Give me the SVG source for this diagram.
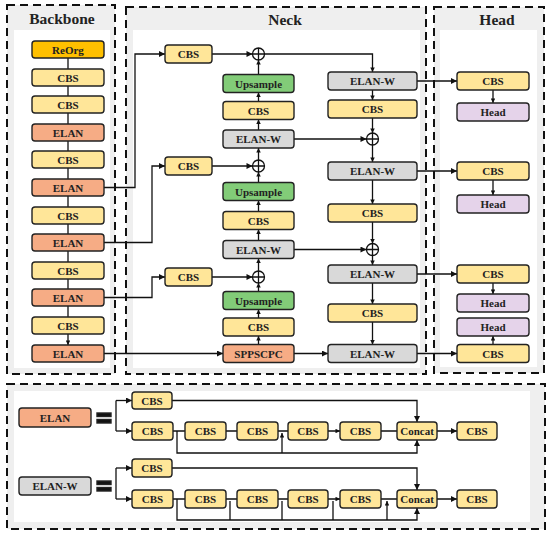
<svg xmlns="http://www.w3.org/2000/svg" width="550" height="535" viewBox="0 0 550 535">
<defs>
<style>
text{font-family:"Liberation Serif","Times New Roman",serif;font-weight:bold;fill:#222;text-anchor:middle}
.t{font-size:11px}
.ttl{font-size:15.5px}
.b rect{stroke:#222;stroke-width:1.4}
.cbs{fill:#ffe699}.elan{fill:#f6ac85}.elw{fill:#d9d9d9}.up{fill:#82cc78}.hd{fill:#e5d3ea}.ro{fill:#ffc000}
.pan{fill:#efefef;stroke:#111;stroke-width:2;stroke-dasharray:8 5}
.in{fill:#fff}
.c path,.c line{fill:none;stroke:#111;stroke-width:1.3}
.ox circle{fill:#fff;stroke:#111;stroke-width:1.3}
.ox path{stroke:#111;stroke-width:1.3}
</style>
<marker id="a" viewBox="0 0 10 10" refX="10" refY="5" markerWidth="7" markerHeight="6" orient="auto" markerUnits="userSpaceOnUse"><path d="M0,0L10,5L0,10z" fill="#111"/></marker>
<marker id="s" viewBox="0 0 10 10" refX="10" refY="5" markerWidth="5" markerHeight="4.5" orient="auto" markerUnits="userSpaceOnUse"><path d="M0,0L10,5L0,10z" fill="#111"/></marker>
</defs>
<rect width="550" height="535" fill="#fff"/>
<g id="panels">
<rect class="pan" x="7" y="5" width="108" height="369"/>
<rect class="in" x="14" y="30" width="96" height="338"/>
<text class="ttl" x="62" y="24">Backbone</text>
<rect class="pan" x="126" y="7" width="300" height="367"/>
<rect class="in" x="133" y="30" width="287" height="338"/>
<text class="ttl" x="285" y="25">Neck</text>
<rect class="pan" x="434" y="7" width="110" height="366"/>
<rect class="in" x="440" y="30" width="97" height="337"/>
<text class="ttl" x="497" y="25">Head</text>
<rect class="pan" x="7" y="384" width="538" height="145"/>
<rect class="in" x="14" y="391" width="516" height="131"/>
</g>
<g id="connectors" class="c">
<path d="M68,58V69M68,86V96M68,113V124M68,141V151M68,168V179M68,196V207M68,224V234M68,251V262M68,279V289M68,306V317M68,334V345" marker-end="url(#s)"/>
<path d="M104,187.5H135V54H165" marker-end="url(#a)"/>
<path d="M104,242.5H152V166H165" marker-end="url(#a)"/>
<path d="M104,297.5H152V277H165" marker-end="url(#a)"/>
<path d="M104,353.5H223" marker-end="url(#a)"/>
<path d="M212,54H252.5" marker-end="url(#a)"/>
<path d="M212,166H252.5" marker-end="url(#a)"/>
<path d="M212,277H252.5" marker-end="url(#a)"/>
<path d="M258.5,344.5V336" marker-end="url(#s)"/>
<path d="M258.5,318V309.5" marker-end="url(#s)"/>
<path d="M258.5,291.5V283" marker-end="url(#s)"/>
<path d="M258.5,271V258.5" marker-end="url(#s)"/>
<path d="M258.5,240.5V229.5" marker-end="url(#s)"/>
<path d="M258.5,211.5V200.5" marker-end="url(#s)"/>
<path d="M258.5,182.5V172" marker-end="url(#s)"/>
<path d="M258.5,160V148" marker-end="url(#s)"/>
<path d="M258.5,130V119.5" marker-end="url(#s)"/>
<path d="M258.5,101.5V92.5" marker-end="url(#s)"/>
<path d="M258.5,74.5V60" marker-end="url(#s)"/>
<path d="M264.5,54H372.5V72" marker-end="url(#s)"/>
<path d="M372.5,90V100" marker-end="url(#s)"/>
<path d="M372.5,118V133" marker-end="url(#s)"/>
<path d="M372.5,145V162" marker-end="url(#s)"/>
<path d="M372.5,180V204" marker-end="url(#s)"/>
<path d="M372.5,222V243.5" marker-end="url(#s)"/>
<path d="M372.5,255.5V265" marker-end="url(#s)"/>
<path d="M372.5,283V304" marker-end="url(#s)"/>
<path d="M372.5,322V344.5" marker-end="url(#s)"/>
<path d="M294,139H366.5" marker-end="url(#a)"/>
<path d="M294,249.5H366.5" marker-end="url(#a)"/>
<path d="M294,353.5H328" marker-end="url(#a)"/>
<path d="M417,81H457" marker-end="url(#a)"/>
<path d="M417,171H457" marker-end="url(#a)"/>
<path d="M417,274H457" marker-end="url(#a)"/>
<path d="M417,353.5H457" marker-end="url(#a)"/>
<path d="M493,90V103" marker-end="url(#s)"/>
<path d="M493,180V195" marker-end="url(#s)"/>
<path d="M493,283V294" marker-end="url(#s)"/>
<path d="M493,344.5V336" marker-end="url(#s)"/>
<!-- ELAN legend -->
<path d="M116,400.5V431"/>
<path d="M116,400.5H132" marker-end="url(#a)"/>
<path d="M116,431H132" marker-end="url(#a)"/>
<path d="M172,400.5H417V422" marker-end="url(#a)"/>
<path d="M173,431H185M226,431H237M278,431H288M328,431H340" marker-end="url(#s)"/>
<path d="M381,431H397M437,431H457" marker-end="url(#a)"/>
<path d="M177,431V453H417V440" marker-end="url(#a)"/>
<path d="M282,453V433" marker-end="url(#s)"/>
<!-- ELAN-W legend -->
<path d="M116,468V499"/>
<path d="M116,468H132" marker-end="url(#a)"/>
<path d="M116,499H132" marker-end="url(#a)"/>
<path d="M172,468H417V490" marker-end="url(#a)"/>
<path d="M173,499H185M226,499H237M278,499H288M328,499H340" marker-end="url(#s)"/>
<path d="M381,499H397M437,499H457" marker-end="url(#a)"/>
<path d="M177,499V520H417V508" marker-end="url(#a)"/>
<path d="M230,520V501M282,520V501M333,520V501M387,520V501" marker-end="url(#s)"/>
</g>
<g id="plus" class="ox">
<g id="add1"><circle cx="258.5" cy="54" r="6"/><path d="M252.5,54H264.5M258.5,48V60"/></g>
<g id="add2"><circle cx="258.5" cy="166" r="6"/><path d="M252.5,166H264.5M258.5,160V172"/></g>
<g id="add3"><circle cx="258.5" cy="277" r="6"/><path d="M252.5,277H264.5M258.5,271V283"/></g>
<g id="add4"><circle cx="372.5" cy="139" r="6"/><path d="M366.5,139H378.5M372.5,133V145"/></g>
<g id="add5"><circle cx="372.5" cy="249.5" r="6"/><path d="M366.5,249.5H378.5M372.5,243.5V255.5"/></g>
</g>
<g id="backbone" class="b">
<g id="bb1"><rect class="ro" x="32" y="41" width="72" height="17" rx="3"/><text class="t" x="68" y="53.5">ReOrg</text></g>
<g id="bb2"><rect class="cbs" x="32" y="69" width="72" height="17" rx="3"/><text class="t" x="68" y="81.5">CBS</text></g>
<g id="bb3"><rect class="cbs" x="32" y="96" width="72" height="17" rx="3"/><text class="t" x="68" y="108.5">CBS</text></g>
<g id="bb4"><rect class="elan" x="32" y="124" width="72" height="17" rx="3"/><text class="t" x="68" y="136.5">ELAN</text></g>
<g id="bb5"><rect class="cbs" x="32" y="151" width="72" height="17" rx="3"/><text class="t" x="68" y="163.5">CBS</text></g>
<g id="bb6"><rect class="elan" x="32" y="179" width="72" height="17" rx="3"/><text class="t" x="68" y="191.5">ELAN</text></g>
<g id="bb7"><rect class="cbs" x="32" y="207" width="72" height="17" rx="3"/><text class="t" x="68" y="219.5">CBS</text></g>
<g id="bb8"><rect class="elan" x="32" y="234" width="72" height="17" rx="3"/><text class="t" x="68" y="246.5">ELAN</text></g>
<g id="bb9"><rect class="cbs" x="32" y="262" width="72" height="17" rx="3"/><text class="t" x="68" y="274.5">CBS</text></g>
<g id="bb10"><rect class="elan" x="32" y="289" width="72" height="17" rx="3"/><text class="t" x="68" y="301.5">ELAN</text></g>
<g id="bb11"><rect class="cbs" x="32" y="317" width="72" height="17" rx="3"/><text class="t" x="68" y="329.5">CBS</text></g>
<g id="bb12"><rect class="elan" x="32" y="345" width="72" height="17" rx="3"/><text class="t" x="68" y="357.5">ELAN</text></g>
</g>
<g id="neck" class="b">
<g id="nc1"><rect class="cbs" x="165" y="45" width="47" height="18" rx="3"/><text class="t" x="188.5" y="58">CBS</text></g>
<g id="nc2"><rect class="cbs" x="165" y="157" width="47" height="18" rx="3"/><text class="t" x="188.5" y="170">CBS</text></g>
<g id="nc3"><rect class="cbs" x="165" y="268" width="47" height="18" rx="3"/><text class="t" x="188.5" y="281">CBS</text></g>
<g id="nu1"><rect class="up" x="223" y="74.5" width="71" height="18" rx="3"/><text class="t" x="258.5" y="87.5">Upsample</text></g>
<g id="nl1"><rect class="cbs" x="223" y="101.5" width="71" height="18" rx="3"/><text class="t" x="258.5" y="114.5">CBS</text></g>
<g id="nw1"><rect class="elw" x="223" y="130" width="71" height="18" rx="3"/><text class="t" x="258.5" y="143">ELAN-W</text></g>
<g id="nu2"><rect class="up" x="223" y="182.5" width="71" height="18" rx="3"/><text class="t" x="258.5" y="195.5">Upsample</text></g>
<g id="nl2"><rect class="cbs" x="223" y="211.5" width="71" height="18" rx="3"/><text class="t" x="258.5" y="224.5">CBS</text></g>
<g id="nw2"><rect class="elw" x="223" y="240.5" width="71" height="18" rx="3"/><text class="t" x="258.5" y="253.5">ELAN-W</text></g>
<g id="nu3"><rect class="up" x="223" y="291.5" width="71" height="18" rx="3"/><text class="t" x="258.5" y="304.5">Upsample</text></g>
<g id="nl3"><rect class="cbs" x="223" y="318" width="71" height="18" rx="3"/><text class="t" x="258.5" y="331">CBS</text></g>
<g id="spp"><rect class="elan" x="223" y="344.5" width="71" height="18" rx="3"/><text class="t" x="258.5" y="357.5">SPPSCPC</text></g>
<g id="rw1"><rect class="elw" x="328" y="72" width="89" height="18" rx="3"/><text class="t" x="372.5" y="85">ELAN-W</text></g>
<g id="rc1"><rect class="cbs" x="328" y="100" width="89" height="18" rx="3"/><text class="t" x="372.5" y="113">CBS</text></g>
<g id="rw2"><rect class="elw" x="328" y="162" width="89" height="18" rx="3"/><text class="t" x="372.5" y="175">ELAN-W</text></g>
<g id="rc2"><rect class="cbs" x="328" y="204" width="89" height="18" rx="3"/><text class="t" x="372.5" y="217">CBS</text></g>
<g id="rw3"><rect class="elw" x="328" y="265" width="89" height="18" rx="3"/><text class="t" x="372.5" y="278">ELAN-W</text></g>
<g id="rc3"><rect class="cbs" x="328" y="304" width="89" height="18" rx="3"/><text class="t" x="372.5" y="317">CBS</text></g>
<g id="rw4"><rect class="elw" x="328" y="344.5" width="89" height="18" rx="3"/><text class="t" x="372.5" y="357.5">ELAN-W</text></g>
</g>
<g id="head" class="b">
<g id="hc1"><rect class="cbs" x="457" y="72" width="72" height="18" rx="3"/><text class="t" x="493" y="85">CBS</text></g>
<g id="hh1"><rect class="hd" x="457" y="103" width="72" height="18" rx="3"/><text class="t" x="493" y="116">Head</text></g>
<g id="hc2"><rect class="cbs" x="457" y="162" width="72" height="18" rx="3"/><text class="t" x="493" y="175">CBS</text></g>
<g id="hh2"><rect class="hd" x="457" y="195" width="72" height="18" rx="3"/><text class="t" x="493" y="208">Head</text></g>
<g id="hc3"><rect class="cbs" x="457" y="265" width="72" height="18" rx="3"/><text class="t" x="493" y="278">CBS</text></g>
<g id="hh3"><rect class="hd" x="457" y="294" width="72" height="18" rx="3"/><text class="t" x="493" y="307">Head</text></g>
<g id="hh4"><rect class="hd" x="457" y="318" width="72" height="18" rx="3"/><text class="t" x="493" y="331">Head</text></g>
<g id="hc4"><rect class="cbs" x="457" y="344.5" width="72" height="18" rx="3"/><text class="t" x="493" y="357.5">CBS</text></g>
</g>
<g id="legend-elan" class="b">
<g id="le"><rect class="elan" x="19" y="408" width="72" height="19" rx="3"/><text class="t" x="55" y="421.5">ELAN</text></g>
<g id="leq"><rect x="97" y="413" width="14" height="3.5" fill="#111" stroke="none"/><rect x="97" y="419.5" width="14" height="3.5" fill="#111" stroke="none"/></g>
<g id="le0"><rect class="cbs" x="132" y="392" width="40" height="17" rx="3"/><text class="t" x="152" y="404.5">CBS</text></g>
<g id="le1"><rect class="cbs" x="132" y="422" width="41" height="18" rx="3"/><text class="t" x="152.5" y="435">CBS</text></g>
<g id="le2"><rect class="cbs" x="185" y="422" width="41" height="18" rx="3"/><text class="t" x="205.5" y="435">CBS</text></g>
<g id="le3"><rect class="cbs" x="237" y="422" width="41" height="18" rx="3"/><text class="t" x="257.5" y="435">CBS</text></g>
<g id="le4"><rect class="cbs" x="288" y="422" width="40" height="18" rx="3"/><text class="t" x="308" y="435">CBS</text></g>
<g id="le5"><rect class="cbs" x="340" y="422" width="41" height="18" rx="3"/><text class="t" x="360.5" y="435">CBS</text></g>
<g id="lec"><rect class="cbs" x="397" y="422" width="40" height="18" rx="3"/><text class="t" x="417" y="435">Concat</text></g>
<g id="le6"><rect class="cbs" x="457" y="422" width="40" height="18" rx="3"/><text class="t" x="477" y="435">CBS</text></g>
</g>
<g id="legend-elanw" class="b">
<g id="lw"><rect class="elw" x="19" y="477" width="72" height="18" rx="3"/><text class="t" x="55" y="490">ELAN-W</text></g>
<g id="lweq"><rect x="97" y="481" width="14" height="3.5" fill="#111" stroke="none"/><rect x="97" y="487.5" width="14" height="3.5" fill="#111" stroke="none"/></g>
<g id="lw0"><rect class="cbs" x="132" y="459" width="40" height="18" rx="3"/><text class="t" x="152" y="472">CBS</text></g>
<g id="lw1"><rect class="cbs" x="132" y="490" width="41" height="18" rx="3"/><text class="t" x="152.5" y="503">CBS</text></g>
<g id="lw2"><rect class="cbs" x="185" y="490" width="41" height="18" rx="3"/><text class="t" x="205.5" y="503">CBS</text></g>
<g id="lw3"><rect class="cbs" x="237" y="490" width="41" height="18" rx="3"/><text class="t" x="257.5" y="503">CBS</text></g>
<g id="lw4"><rect class="cbs" x="288" y="490" width="40" height="18" rx="3"/><text class="t" x="308" y="503">CBS</text></g>
<g id="lw5"><rect class="cbs" x="340" y="490" width="41" height="18" rx="3"/><text class="t" x="360.5" y="503">CBS</text></g>
<g id="lwc"><rect class="cbs" x="397" y="490" width="40" height="18" rx="3"/><text class="t" x="417" y="503">Concat</text></g>
<g id="lw6"><rect class="cbs" x="457" y="490" width="40" height="18" rx="3"/><text class="t" x="477" y="503">CBS</text></g>
</g>
</svg>
